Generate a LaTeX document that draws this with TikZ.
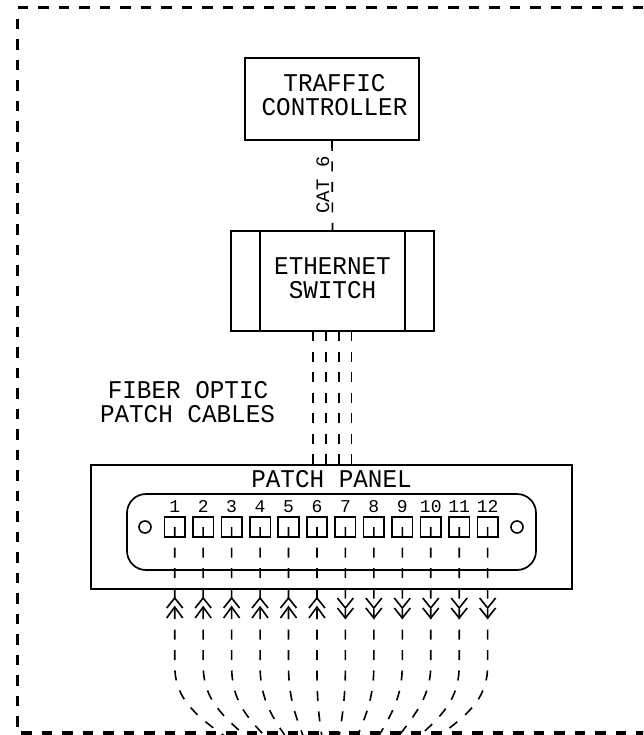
\documentclass[tikz,border=0pt]{standalone}
\usepackage{fontspec}
\setmainfont{Liberation Mono}
\newcommand{\Tall}[1]{\scalebox{1}[1.05]{#1}}
\begin{document}
\begin{tikzpicture}[x=1pt,y=-1pt,
  boxn/.style={draw,line width=1.7pt,inner sep=0pt},
  big/.style={font=\fontsize{24.3}{25}\selectfont,inner sep=0pt,anchor=base,text height=17pt,text depth=0pt},
  small/.style={font=\fontsize{19}{20}\selectfont,inner sep=0pt,text height=13pt,text depth=0pt},
  num/.style={font=\fontsize{18}{20}\selectfont,inner sep=0pt,anchor=base,text height=12.5pt,text depth=0pt},
  cable/.style={line width=1.6pt,dash pattern=on 10pt off 10.5pt},
  border/.style={line width=3.2pt,dash pattern=on 10.5pt off 10pt},
  chev/.style={line width=1.6pt}]
\path[use as bounding box,clip] (0,0) rectangle (643,735);
\fill[white] (0,0) rectangle (643,735);
% outer dashed frame
\coordinate (fa) at (17.5,7.5);
\coordinate (fb) at (650,7.5);
\coordinate (fc) at (17.5,19);
\coordinate (fd) at (17.5,733);
\coordinate (fe) at (21,733);
\coordinate (ff) at (650,733);
\draw[border] (fa) -- (fb);
\draw[border] (fc) -- (fd);
\draw[border] (fe) -- (ff);
% boxes
\node[boxn,minimum width=174pt,minimum height=82pt] (tc) at (332,99) {};
\node[big] (tc1) at (334.5,92) {\Tall{TRAFFIC}};
\node[big] (tc2) at (334.5,116) {\Tall{CONTROLLER}};
\node[boxn,minimum width=203pt,minimum height=100pt] (es) at (332.5,281) {};
\node[boxn,minimum width=145pt,minimum height=100pt] (esi) at (332.5,281) {};
\node[big] (es1) at (332.5,274) {\Tall{ETHERNET}};
\node[big] (es2) at (332.5,298) {\Tall{SWITCH}};
\node[boxn,minimum width=481pt,minimum height=124pt] (pp) at (331.5,527) {};
\node[boxn,minimum width=409pt,minimum height=76pt,rounded corners=19pt] (pi) at (331.5,532) {};
\node[big] (pt) at (331.5,487) {\Tall{PATCH PANEL}};
% connector
\draw[cable] (tc.south) -- (es.north);
\node[small,rotate=90,anchor=base] (cat) at (329,185) {CAT 6};
% fiber patch cables
\foreach \n/\x in {1/313,2/326,3/339,4/351.5}{
  \coordinate (fs\n) at (\x,331);
  \coordinate (ft\n) at (\x,465);
  \draw[cable] (fs\n) -- (ft\n);
}
\node[big] (lb1) at (188,398) {\Tall{FIBER OPTIC}};
\node[big] (lb2) at (187.5,422) {\Tall{PATCH CABLES}};
% circles
\node[draw,circle,line width=1.6pt,minimum size=12pt,inner sep=0pt] (cl) at (145,527) {};
\node[draw,circle,line width=1.6pt,minimum size=12pt,inner sep=0pt] (cr) at (517,527) {};
% ports
\foreach \i/\xc/\xe in {1/190/226,2/217/247,3/241/266,4/268.5/286,5/294/303.5,6/318/322,7/343/339,8/367.5/357,9/393/378,10/417/398,11/447/418,12/473/437}{
  \pgfmathsetmacro{\px}{174.7+(\i-1)*28.45}
  \node[draw,line width=1.6pt,minimum width=20.5pt,minimum height=20pt,inner sep=0pt] (p\i) at (\px,527) {};
  \node[num] (n\i) at (\px,512.5) {\i};
  \coordinate (s\i) at (\px,665);
  \coordinate (ka\i) at (\px,695);
  \coordinate (kb\i) at (\xc,712);
  \coordinate (e\i) at (\xe,737);
  \draw[cable] (p\i.center) -- (s\i) .. controls (ka\i) and (kb\i) .. (e\i);
}
% arrowheads: in (1-6) and out (7-12)
\foreach \i in {1,...,6}{
  \draw[chev] ([shift={(-8,10)}]p\i.center |- 0,598) -- (p\i.center |- 0,598) -- ([shift={(8,10)}]p\i.center |- 0,598);
  \draw[chev] ([shift={(-8,11)}]p\i.center |- 0,607) -- (p\i.center |- 0,607) -- ([shift={(8,11)}]p\i.center |- 0,607);
}
\foreach \i in {7,...,12}{
  \draw[chev] ([shift={(-8,-10)}]p\i.center |- 0,608) -- (p\i.center |- 0,608) -- ([shift={(8,-10)}]p\i.center |- 0,608);
  \draw[chev] ([shift={(-8,-10)}]p\i.center |- 0,618) -- (p\i.center |- 0,618) -- ([shift={(8,-10)}]p\i.center |- 0,618);
}
\end{tikzpicture}
\end{document}
